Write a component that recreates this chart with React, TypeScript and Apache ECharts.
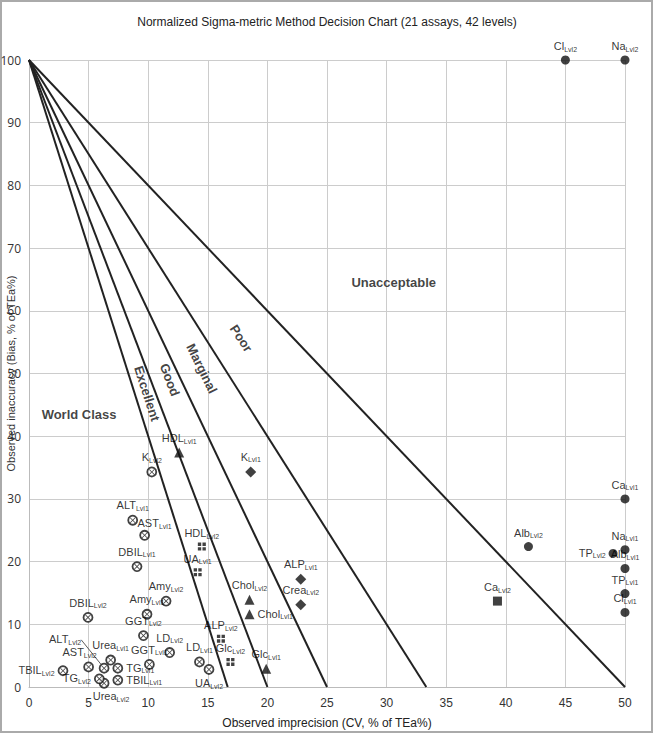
import React, { useEffect, useRef } from "react";
import * as echarts from "echarts";

// ---------- data ----------
const titleText = "Normalized Sigma-metric Method Decision Chart (21 assays, 42 levels)";
const xAxisName = "Observed imprecision (CV, % of TEa%)";
const yAxisName = "Observed inaccuracy (Bias, % of TEa%)";

// x-intercepts of the 6,5,4,3,2 sigma lines (all start at bias 100)
const sigmaIntercepts = [16.67, 20, 25, 33.33, 50];

// World class (circle with X)
const wcNames = ["K", "ALT", "AST", "DBIL", "DBIL", "Amy", "Amy", "GGT", "GGT", "LD", "LD", "UA", "Urea", "Urea", "TG", "TG", "TBIL", "TBIL", "AST", "ALT"];
const wcLevels = ["Lvl2", "Lvl1", "Lvl1", "Lvl1", "Lvl2", "Lvl2", "Lvl1", "Lvl2", "Lvl1", "Lvl2", "Lvl1", "Lvl2", "Lvl1", "Lvl2", "Lvl1", "Lvl2", "Lvl1", "Lvl2", "Lvl2", "Lvl2"];
const wcCV = [10.3, 8.7, 9.7, 9.06, 4.95, 11.5, 9.9, 9.6, 10.1, 11.8, 14.3, 15.1, 6.85, 6.3, 7.45, 5.9, 7.45, 2.85, 5.0, 6.3];
const wcBias = [34.3, 26.6, 24.2, 19.2, 11.1, 13.7, 11.6, 8.2, 3.6, 5.5, 4.0, 2.8, 4.3, 0.6, 3.0, 1.3, 1.1, 2.6, 3.2, 3.0];
const wcLabelPos = ["top", "top", "top", "top", "top", "top", "top", "top", "top", "top", "top", "bottom", "top", "bottom", "right", "left", "right", "left", "top", "top"];

// Excellent (four squares)
const exNames = ["HDL", "UA", "ALP", "Glc"];
const exLevels = ["Lvl2", "Lvl1", "Lvl2", "Lvl2"];
const exCV = [14.5, 14.15, 16.1, 16.9];
const exBias = [22.4, 18.3, 7.7, 4.0];

// Good (triangle)
const goNames = ["HDL", "Chol", "Chol", "Glc"];
const goLevels = ["Lvl1", "Lvl2", "Lvl1", "Lvl1"];
const goCV = [12.6, 18.5, 18.5, 19.9];
const goBias = [37.4, 13.9, 11.6, 2.9];
const goLabelPos = ["top", "top", "right", "top"];

// Marginal (diamond)
const maNames = ["K", "ALP", "Crea"];
const maLevels = ["Lvl1", "Lvl1", "Lvl2"];
const maCV = [18.6, 22.8, 22.8];
const maBias = [34.3, 17.2, 13.1];

// Poor (square)
const poNames = ["Ca"];
const poLevels = ["Lvl2"];
const poCV = [39.3];
const poBias = [13.7];

// Unacceptable (circle)
const unNames = ["Cl", "Na", "Ca", "Alb", "Na", "TP", "Alb", "TP", "Cl"];
const unLevels = ["Lvl2", "Lvl2", "Lvl1", "Lvl2", "Lvl1", "Lvl2", "Lvl1", "Lvl1", "Lvl1"];
const unCV = [45, 50, 50, 41.9, 50, 49.0, 50, 50, 50];
const unBias = [100, 100, 30, 22.4, 21.9, 21.3, 18.9, 14.9, 11.9];
const unLabelPos = ["top", "top", "top", "top", "top", "left", "top", "top", "top"];

// Zone labels
const zoneNames = ["World Class", "Excellent", "Good", "Marginal", "Poor", "Unacceptable"];
const zoneCV = [4.2, 9.9, 11.8, 14.5, 17.8, 30.6];
const zoneBias = [43.4, 46.8, 49.0, 50.8, 55.6, 64.5];
const zoneRotate = [0, -72, -69, -64, -57, 0];

// ---------- helpers ----------
const FONT = "Liberation Sans, Arial, sans-serif";
const rich = {
  a: { fontSize: 11, lineHeight: 12, fontFamily: FONT, color: "#000", verticalAlign: "top" },
  s: { fontSize: 7, lineHeight: 7, fontFamily: FONT, color: "#000", padding: [5, 0, 0, 0], verticalAlign: "bottom" },
};

function buildData(names: string[], levels: string[], cv: number[], bias: number[], pos?: string[]) {
  return names.map((n, i) => ({
    value: [cv[i], bias[i]],
    name: n,
    lvl: levels[i],
    label: { position: pos ? pos[i] : "top" },
  }));
}

const labelBase = {
  show: true,
  distance: 3,
  color: "#000",
  formatter: (p: any) => `{a|${p.data.name}}{s|${p.data.lvl}}`,
  rich,
};

const XPATH = "path://M1,0 L5,4 L9,0 L10,1 L6,5 L10,9 L9,10 L5,6 L1,10 L0,9 L4,5 L0,1 Z";
const FOURSQ = "path://M0,0h4.2v4.2h-4.2z M5.8,0h4.2v4.2h-4.2z M0,5.8h4.2v4.2h-4.2z M5.8,5.8h4.2v4.2h-4.2z";

export default function App() {
  const ref = useRef<HTMLDivElement>(null);
  useEffect(() => {
    if (!ref.current) return;
    const chart = echarts.init(ref.current, undefined, { renderer: "svg" });

    const wcData = buildData(wcNames, wcLevels, wcCV, wcBias, wcLabelPos);
    const altIdx = wcData.length - 1;
    const astIdx = wcData.length - 2;
    (wcData[altIdx] as any).labelLine = { show: true, lineStyle: { color: "#333", width: 0.8 } };

    const lineSeries = sigmaIntercepts.map((xi) => ({
      type: "line",
      data: [[0, 100], [xi, 0]],
      symbol: "none",
      lineStyle: { color: "#222", width: 2 },
      silent: true,
      z: 2,
    }));

    const option: any = {
      animation: false,
      backgroundColor: "#fff",
      title: {
        text: titleText,
        left: "center",
        top: 11,
        textStyle: { fontSize: 12, fontWeight: "normal", fontFamily: FONT, color: "#222" },
      },
      grid: { left: 29, right: 29, top: 60, bottom: 48, containLabel: false, outerBoundsMode: "none" },
      xAxis: {
        type: "value",
        min: 0,
        max: 50,
        interval: 5,
        name: xAxisName,
        nameLocation: "middle",
        nameGap: 30,
        nameMoveOverlap: false,
        nameTextStyle: { fontSize: 12, fontFamily: FONT, color: "#222" },
        axisLine: { show: true, lineStyle: { color: "#bbb" } },
        axisTick: { show: false },
        axisLabel: { fontSize: 12, fontFamily: FONT, color: "#333", margin: 10 },
        splitLine: { show: true, lineStyle: { color: "#ccc", width: 1 } },
      },
      yAxis: {
        type: "value",
        min: 0,
        max: 100,
        interval: 10,
        name: yAxisName,
        nameLocation: "middle",
        nameGap: 13,
        nameMoveOverlap: false,
        nameTextStyle: { fontSize: 11, fontFamily: FONT, color: "#333" },
        axisLine: { show: true, lineStyle: { color: "#bbb" } },
        axisTick: { show: false },
        axisLabel: { fontSize: 12, fontFamily: "Open Sans, sans-serif", color: "#333", margin: 8 },
        splitLine: { show: true, lineStyle: { color: "#ccc", width: 1 } },
      },
      graphic: [
        {
          type: "rect",
          shape: { x: 1, y: 1, width: 651, height: 731 },
          style: { fill: "none", stroke: "#aaa", lineWidth: 2 },
          silent: true,
        },
      ],
      series: [
        ...lineSeries,
        {
          type: "scatter",
          data: wcData,
          symbol: "circle",
          symbolSize: 9,
          itemStyle: { color: "#fff", borderColor: "#111", borderWidth: 1.8 },
          label: labelBase,
          labelLine: { show: false },
          labelLayout: (p: any) => {
            if (p.dataIndex === altIdx) return { dx: -39, dy: -14 };
            if (p.dataIndex === astIdx) return { dx: -9, dy: 0 };
            if (p.dataIndex === 2) return { dx: 10, dy: 3 };
            if (p.dataIndex === 13) return { dx: 7, dy: -1 };
            return {};
          },
          z: 5,
        },
        {
          type: "scatter",
          data: wcCV.map((x, i) => [x, wcBias[i]]),
          symbol: XPATH,
          symbolSize: 5.5,
          itemStyle: { color: "#111" },
          silent: true,
          z: 6,
        },
        {
          type: "scatter",
          data: buildData(exNames, exLevels, exCV, exBias),
          symbol: FOURSQ,
          symbolSize: 8,
          itemStyle: { color: "#111" },
          label: labelBase,
          z: 5,
        },
        {
          type: "scatter",
          data: buildData(goNames, goLevels, goCV, goBias, goLabelPos),
          symbol: "triangle",
          symbolSize: 10,
          itemStyle: { color: "#111" },
          label: labelBase,
          z: 5,
        },
        {
          type: "scatter",
          data: buildData(maNames, maLevels, maCV, maBias),
          symbol: "diamond",
          symbolSize: 11,
          itemStyle: { color: "#111" },
          label: labelBase,
          z: 5,
        },
        {
          type: "scatter",
          data: buildData(poNames, poLevels, poCV, poBias),
          symbol: "rect",
          symbolSize: 9,
          itemStyle: { color: "#111" },
          label: labelBase,
          z: 5,
        },
        {
          type: "scatter",
          data: buildData(unNames, unLevels, unCV, unBias, unLabelPos),
          symbol: "circle",
          symbolSize: 9,
          itemStyle: { color: "#111" },
          label: labelBase,
          clip: false,
          z: 5,
        },
        {
          type: "scatter",
          data: zoneNames.map((n, i) => ({
            value: [zoneCV[i], zoneBias[i]],
            name: n,
            label: { rotate: zoneRotate[i] },
          })),
          symbolSize: 0,
          silent: true,
          label: {
            show: true,
            position: "inside",
            formatter: "{b}",
            fontSize: 13,
            fontWeight: "bold",
            fontFamily: FONT,
            color: "#111",
          },
          z: 4,
        },
      ],
    };
    chart.setOption(option);
    return () => chart.dispose();
  }, []);
  return (
    <div
      ref={ref}
      style={{ position: "fixed", left: 0, top: 0, width: 654, height: 735, background: "#fff" }}
    />
  );
}
